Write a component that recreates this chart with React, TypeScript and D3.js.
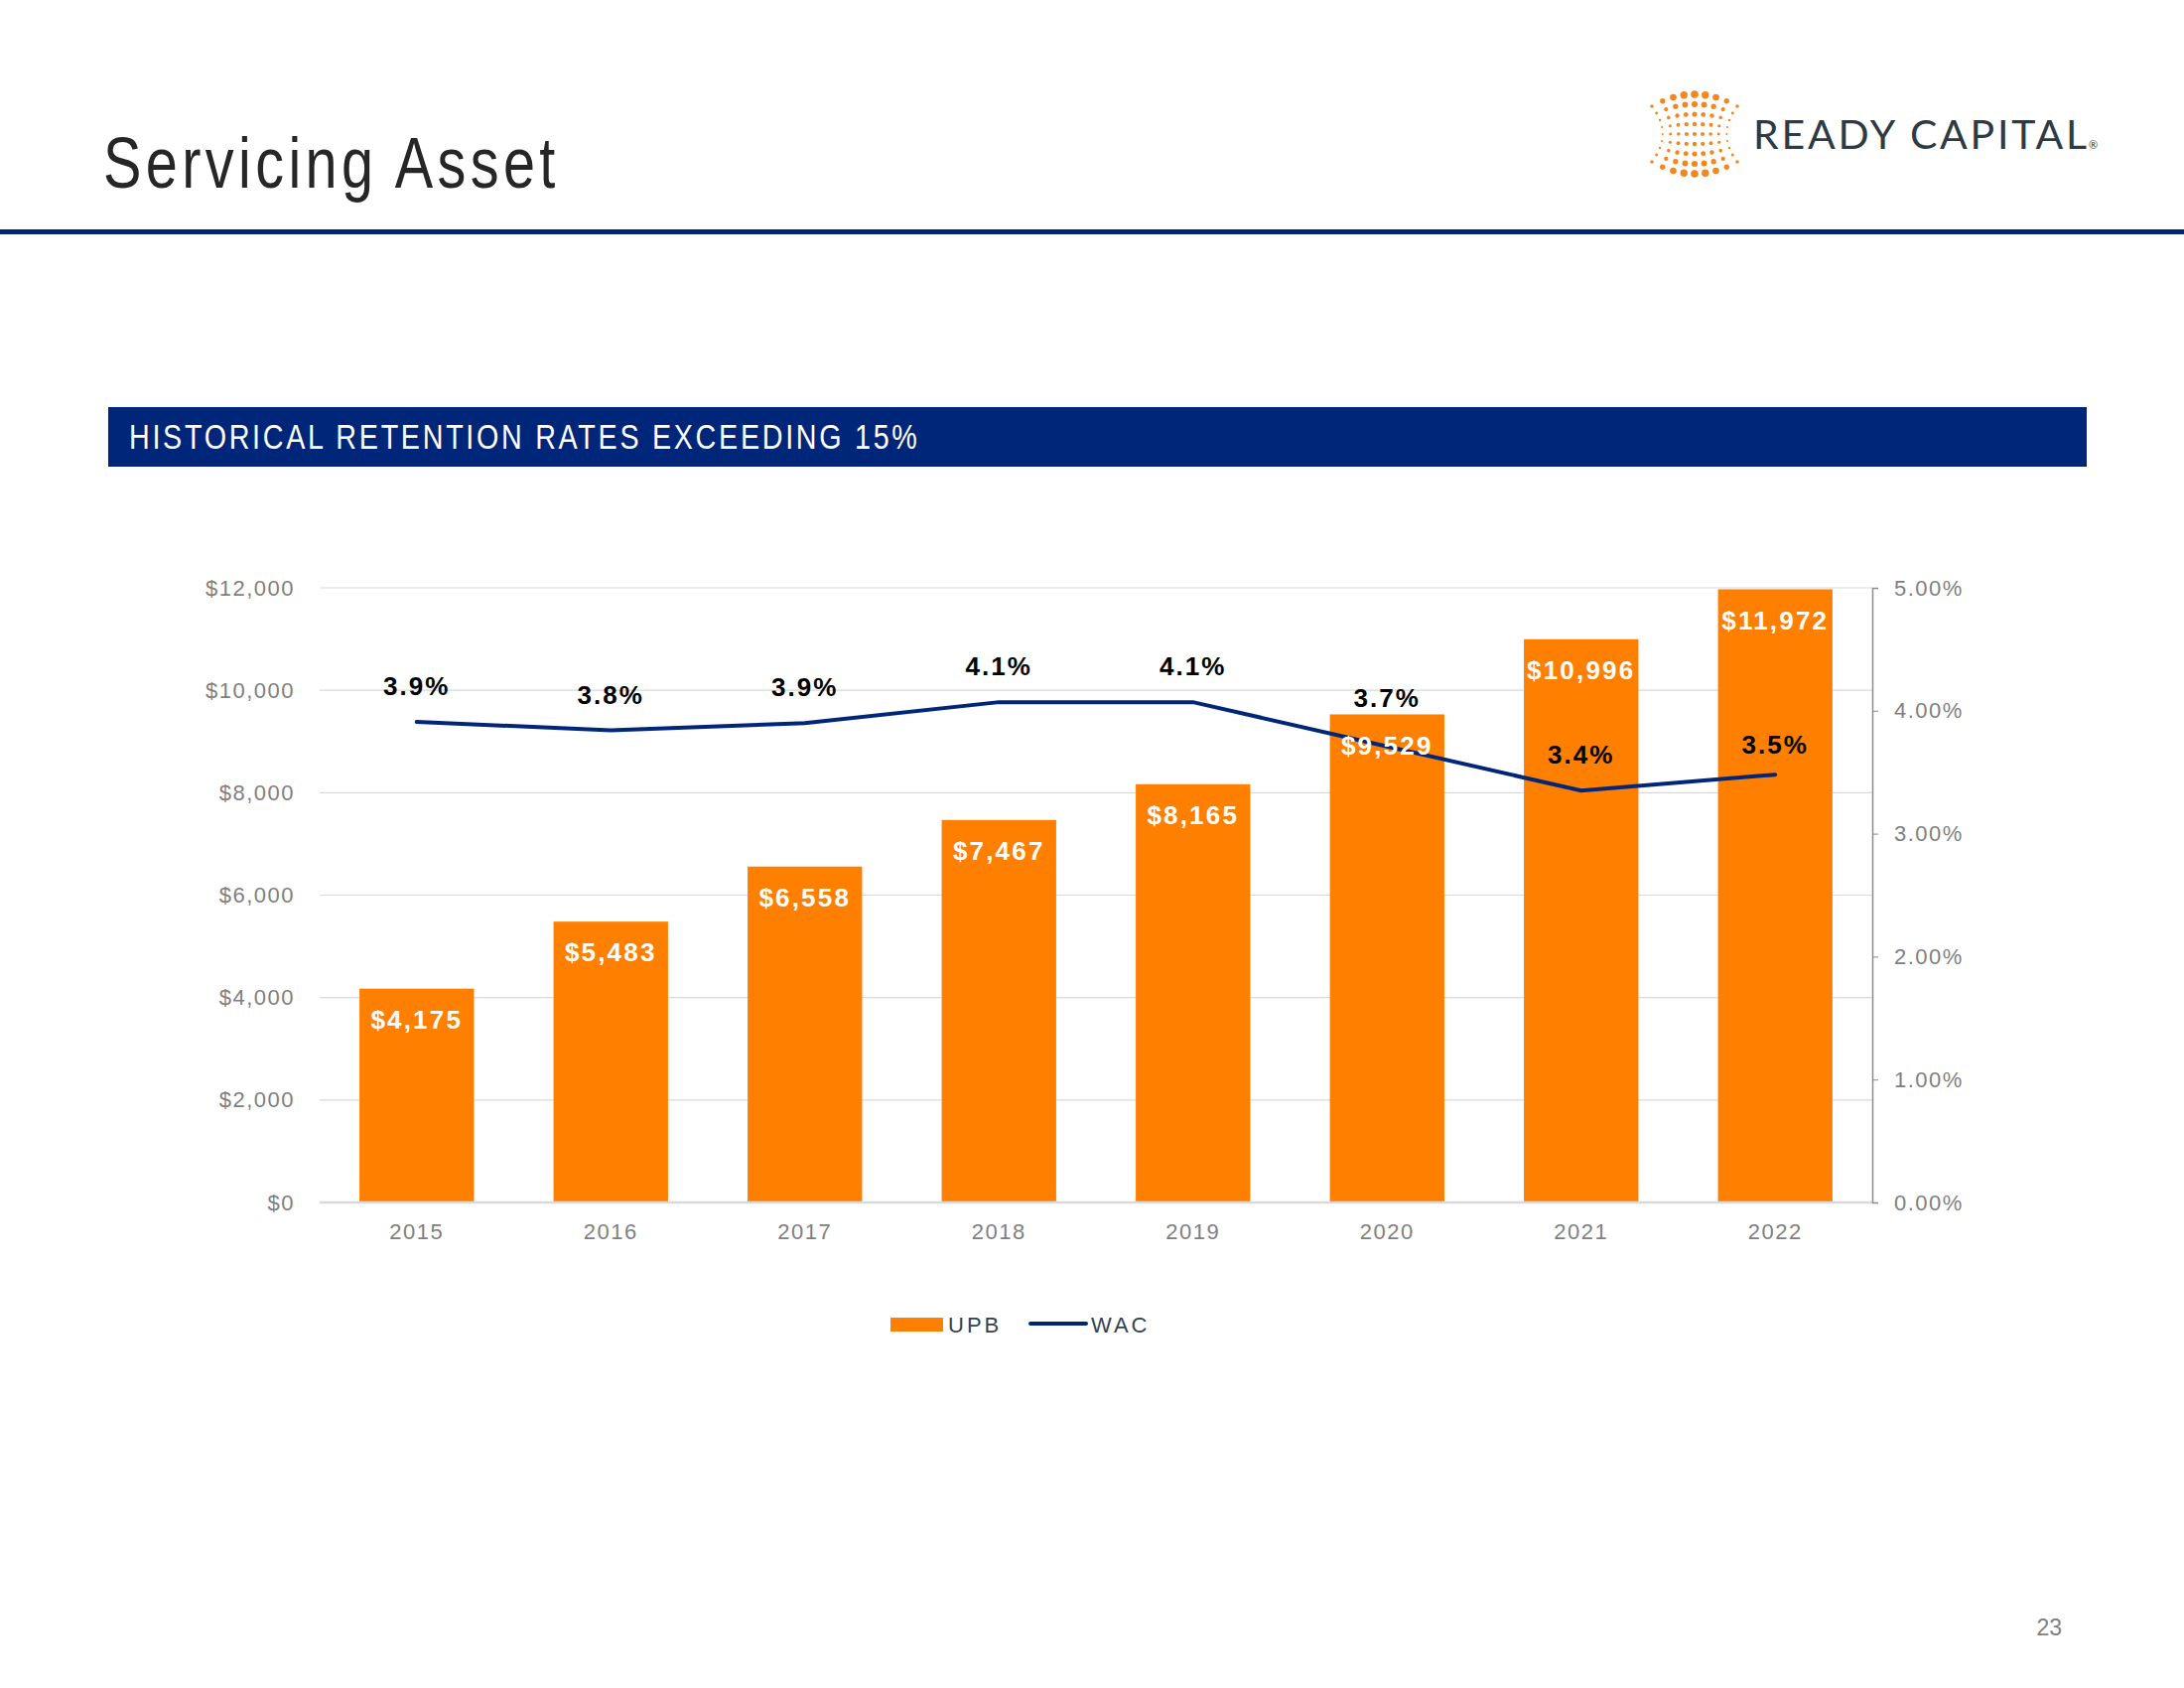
import { useEffect, useRef } from 'react';
import * as d3 from 'd3';

const years = ['2015', '2016', '2017', '2018', '2019', '2020', '2021', '2022'];
const upb = [4175, 5483, 6558, 7467, 8165, 9529, 10996, 11972];
const wac = [3.91, 3.84, 3.9, 4.07, 4.07, 3.71, 3.35, 3.48];
const wacLabels = ['3.9%', '3.8%', '3.9%', '4.1%', '4.1%', '3.7%', '3.4%', '3.5%'];
const upbTicks = [0, 2000, 4000, 6000, 8000, 10000, 12000];
const wacTicks = [0, 1, 2, 3, 4, 5];

// manual label nudges (px) carried over from the slide
const wacLabelDy = [-36, -36, -36, -36, -36, -49, -36, -30];

const ORANGE = '#FF8000';
const NAVY = '#00267A';
const GRAY = '#7F7F7F';

export default function App() {
  const svgRef = useRef<SVGSVGElement>(null);

  useEffect(() => {
    document.body.style.margin = '0';
    if (!svgRef.current) return;
    const svg = d3.select(svgRef.current);
    svg.selectAll('*').remove();

    svg.append('rect').attr('width', 2200).attr('height', 1700).attr('fill', '#fff');

    // header: no Arial Narrow installed, so squeeze Liberation Sans horizontally
    svg.append('g')
      .attr('transform', 'translate(104,189) scale(0.8,1)')
      .append('text')
      .attr('font-family', "'Liberation Sans', Arial, sans-serif")
      .attr('font-size', 72)
      .attr('letter-spacing', 5.5)
      .attr('fill', '#262626')
      .text('Servicing Asset');

    svg.append('rect').attr('x', 0).attr('y', 231).attr('width', 2200).attr('height', 5).attr('fill', NAVY);

    // logo dots
    const logo = svg.append('g');
    const cols = 9, rows = 9, cx = 1707, cy = 135, W = 86, H = 80;
    for (let i = 0; i < rows; i++) {
      for (let j = 0; j < cols; j++) {
        const u = (j / (cols - 1)) * 2 - 1;
        const v = (i / (rows - 1)) * 2 - 1;
        const px = cx + u * (W / 2) * (0.75 + 0.25 * v * v);
        const py = cy + v * (H / 2) * (0.7 + 0.3 * (1 - u * u));
        const r = (1.8 + 2.0 * (1 - u * u)) * (0.55 + 0.45 * v * v);
        logo.append('circle').attr('cx', px).attr('cy', py).attr('r', r).attr('fill', '#F5851F');
      }
    }
    svg.append('text')
      .attr('x', 1766).attr('y', 150)
      .attr('font-family', 'Lato, sans-serif')
      .attr('font-size', 41)
      .attr('textLength', 336)
      .attr('lengthAdjust', 'spacing')
      .attr('fill', '#2E3A44')
      .text('READY CAPITAL');
    svg.append('text')
      .attr('x', 2104).attr('y', 150)
      .attr('font-family', 'Lato, sans-serif')
      .attr('font-size', 11)
      .attr('fill', '#2E3A44')
      .text('®');

    // banner
    svg.append('rect').attr('x', 109).attr('y', 410).attr('width', 1993).attr('height', 60).attr('fill', NAVY);
    svg.append('g')
      .attr('transform', 'translate(130,452) scale(0.82,1)')
      .append('text')
      .attr('font-family', "'Liberation Sans', Arial, sans-serif")
      .attr('font-size', 35)
      .attr('letter-spacing', 3.3)
      .attr('fill', '#fff')
      .text('HISTORICAL RETENTION RATES EXCEEDING 15%');

    // chart
    const left = 322, right = 1886, top = 592, bottom = 1211;
    const x = d3.scaleBand<string>().domain(years).range([left, right]).paddingInner(0.41).paddingOuter(0.205);
    const y = d3.scaleLinear().domain([0, 12000]).range([bottom, top]);
    const y2 = d3.scaleLinear().domain([0, 5]).range([bottom, top]);
    const font = "'Liberation Sans', Arial, sans-serif";

    // grid
    svg.append('g')
      .selectAll('line')
      .data(upbTicks.slice(1))
      .join('line')
      .attr('x1', left).attr('x2', right)
      .attr('y1', d => y(d)).attr('y2', d => y(d))
      .attr('stroke', '#D9D9D9').attr('stroke-width', 1.2);

    // left axis labels
    const gl = svg.append('g')
      .attr('transform', `translate(${left},0)`)
      .call(d3.axisLeft(y).tickValues(upbTicks).tickSize(0).tickPadding(25)
        .tickFormat(d => '$' + d3.format(',')(d as number)));
    gl.select('.domain').remove();
    gl.selectAll('text')
      .attr('font-family', font).attr('font-size', 22).attr('letter-spacing', 1.5).attr('fill', GRAY);

    // bars
    svg.append('g')
      .selectAll('rect')
      .data(upb)
      .join('rect')
      .attr('x', (_, i) => x(years[i])!)
      .attr('width', x.bandwidth())
      .attr('y', d => y(d))
      .attr('height', d => bottom - y(d))
      .attr('fill', ORANGE);

    // baseline
    svg.append('line')
      .attr('x1', left).attr('x2', right).attr('y1', bottom).attr('y2', bottom)
      .attr('stroke', '#D9D9D9').attr('stroke-width', 2.5);

    // bottom axis labels
    const gb = svg.append('g')
      .attr('transform', `translate(0,${bottom})`)
      .call(d3.axisBottom(x).tickSize(0).tickPadding(21));
    gb.select('.domain').remove();
    gb.selectAll('text')
      .attr('font-family', font).attr('font-size', 22).attr('letter-spacing', 1.5).attr('fill', GRAY);

    // right axis
    const gr = svg.append('g')
      .attr('transform', `translate(${right},0)`)
      .call(d3.axisRight(y2).tickValues(wacTicks).tickSize(6).tickPadding(16)
        .tickFormat(d => d3.format('.2f')(d as number) + '%'));
    gr.select('.domain').attr('stroke', '#8C8C8C').attr('stroke-width', 1.5);
    gr.selectAll('line').attr('stroke', '#8C8C8C');
    gr.selectAll('text')
      .attr('font-family', font).attr('font-size', 22).attr('letter-spacing', 1.5).attr('fill', GRAY);

    // WAC line
    const line = d3.line<number>()
      .x((_, i) => x(years[i])! + x.bandwidth() / 2)
      .y(d => y2(d));
    svg.append('path')
      .datum(wac)
      .attr('fill', 'none')
      .attr('stroke', NAVY)
      .attr('stroke-width', 4)
      .attr('stroke-linecap', 'round')
      .attr('d', line);

    // UPB labels
    svg.append('g')
      .selectAll('text')
      .data(upb)
      .join('text')
      .attr('x', (_, i) => x(years[i])! + x.bandwidth() / 2)
      .attr('y', d => y(d) + 31)
      .attr('dy', '0.35em')
      .attr('text-anchor', 'middle')
      .attr('font-family', font).attr('font-weight', 'bold')
      .attr('font-size', 26).attr('letter-spacing', 2.2)
      .attr('fill', '#fff')
      .text(d => '$' + d3.format(',')(d));

    // WAC labels
    svg.append('g')
      .selectAll('text')
      .data(wac)
      .join('text')
      .attr('x', (_, i) => x(years[i])! + x.bandwidth() / 2)
      .attr('y', (d, i) => y2(d) + wacLabelDy[i])
      .attr('dy', '0.35em')
      .attr('text-anchor', 'middle')
      .attr('font-family', font).attr('font-weight', 'bold')
      .attr('font-size', 26).attr('letter-spacing', 2)
      .attr('fill', '#000')
      .text((_, i) => wacLabels[i]);

    // legend
    const lg = svg.append('g');
    lg.append('rect').attr('x', 897).attr('y', 1327).attr('width', 53).attr('height', 14).attr('fill', ORANGE);
    lg.append('text').attr('x', 955).attr('y', 1334).attr('dy', '0.35em')
      .attr('font-family', font).attr('font-size', 22).attr('letter-spacing', 3).attr('fill', '#35424F')
      .text('UPB');
    lg.append('line').attr('x1', 1038).attr('x2', 1094).attr('y1', 1333).attr('y2', 1333)
      .attr('stroke', NAVY).attr('stroke-width', 4).attr('stroke-linecap', 'round');
    lg.append('text').attr('x', 1099).attr('y', 1334).attr('dy', '0.35em')
      .attr('font-family', font).attr('font-size', 22).attr('letter-spacing', 3).attr('fill', '#35424F')
      .text('WAC');

    // page number
    svg.append('text')
      .attr('x', 2077).attr('y', 1647)
      .attr('text-anchor', 'end')
      .attr('font-family', font).attr('font-size', 23)
      .attr('fill', GRAY)
      .text('23');
  }, []);

  return <svg ref={svgRef} width={2200} height={1700} style={{ display: 'block' }} />;
}
